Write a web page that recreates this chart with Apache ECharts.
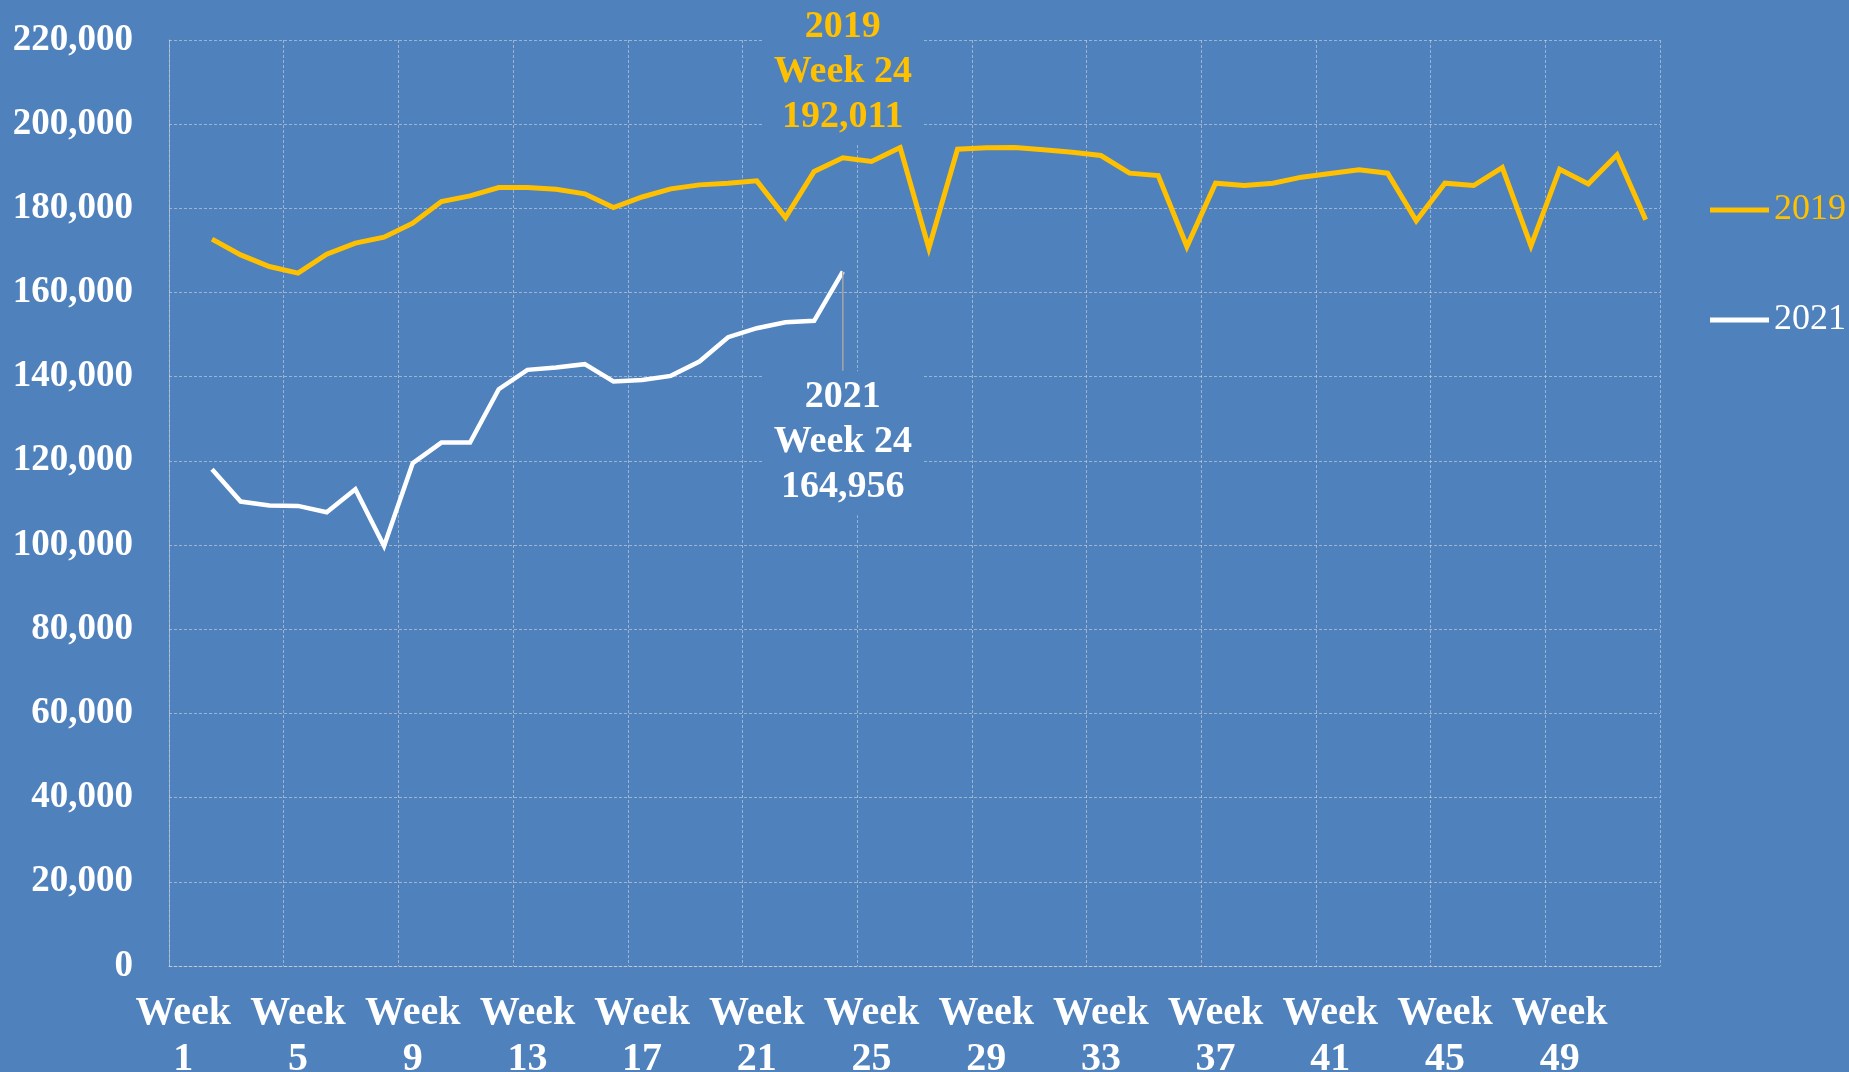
<!DOCTYPE html>
<html lang="en">
<head>
    <meta http-equiv="Content-Type" content="text/html; charset=utf-8"/>
    <title>Weekly totals 2019 vs 2021</title>
    <script src="https://cdn.jsdelivr.net/npm/echarts@6/dist/echarts.min.js"></script>
    <style type="text/css">
        html, body { height:100%; margin:0; background:#4F81BD; }
        #main_1 { width:1849px; height:1072px; }
    </style>
</head>
<body>
<div id="main_1"></div>
<script>
    var weeks = ['Week 1','Week 2','Week 3','Week 4','Week 5','Week 6','Week 7','Week 8','Week 9','Week 10',
        'Week 11','Week 12','Week 13','Week 14','Week 15','Week 16','Week 17','Week 18','Week 19','Week 20',
        'Week 21','Week 22','Week 23','Week 24','Week 25','Week 26','Week 27','Week 28','Week 29','Week 30',
        'Week 31','Week 32','Week 33','Week 34','Week 35','Week 36','Week 37','Week 38','Week 39','Week 40',
        'Week 41','Week 42','Week 43','Week 44','Week 45','Week 46','Week 47','Week 48','Week 49','Week 50',
        'Week 51','Week 52'];

    var v2019 = [null, 172700, 168950, 166180, 164600, 169110, 171730, 173150, 176480, 181630,
        182970, 184950, 184950, 184560, 183450, 180200, 182700, 184630, 185580, 185980,
        186540, 177820, 188750, 192011, 191130, 194460, 170540, 194060, 194380, 194460,
        193900, 193350, 192560, 188360, 187800, 170930, 185980, 185430, 185980, 187410,
        188300, 189150, 188360, 177030, 185980, 185430, 189700, 171090, 189310, 185820,
        192710, 177270];

    var v2021 = [null, 118030, 110340, 109390, 109310, 107810, 113280, 99810, 119450, 124360,
        124360, 137040, 141630, 142180, 142980, 138860, 139250, 140200, 143610, 149390,
        151530, 152960, 153270, 164956];

    var yTicks = { min: 0, max: 220000, step: 20000 };
    var noteWeek = 23; // Week 24

    var BG = '#4F81BD', GOLD = '#FFC000', WHITE = '#FFFFFF';
    var GRID = 'rgba(210,214,222,0.6)';
    var FONT = '"Liberation Serif", "DejaVu Serif", serif';

    function fmt(v) { return v.toLocaleString('en-US'); }

    function note(name, color, pos, dist, values) {
        return {
            symbol: 'circle', symbolSize: 1,
            itemStyle: { color: 'rgba(0,0,0,0)' },
            data: [{ coord: [weeks[noteWeek], values[noteWeek]] }],
            label: {
                show: true, position: pos, distance: dist,
                formatter: function () { return name + '\n' + weeks[noteWeek] + '\n' + fmt(values[noteWeek]); },
                color: color, fontFamily: FONT, fontWeight: 'bold', fontSize: 38, lineHeight: 45,
                backgroundColor: BG, padding: [4, 10, 5, 10], align: 'center'
            }
        };
    }

    var myChart = echarts.init(document.getElementById('main_1'));

    var option = {
        backgroundColor: BG,
        animation: false,
        grid: { left: 169, right: 189, top: 40, bottom: 106, outerBoundsMode: 'none' },
        legend: {
            orient: 'vertical', left: 1710, top: 190, padding: 0,
            icon: 'rect', itemWidth: 59, itemHeight: 5, itemGap: 70,
            textStyle: { fontFamily: FONT, fontSize: 36, lineHeight: 40 },
            data: [
                { name: '2019', textStyle: { color: GOLD } },
                { name: '2021', textStyle: { color: WHITE } }
            ]
        },
        xAxis: {
            type: 'category', data: weeks, boundaryGap: true,
            axisLine: { lineStyle: { color: GRID, type: [3, 2] } },
            axisTick: { show: false },
            axisLabel: {
                interval: 3, margin: 25, color: WHITE,
                fontFamily: FONT, fontWeight: 'bold', fontSize: 40, lineHeight: 46,
                formatter: function (v) { return v.replace(' ', '\n'); }
            },
            splitLine: { show: true, interval: 3, lineStyle: { color: GRID, type: [3, 2] } }
        },
        yAxis: {
            type: 'value', min: yTicks.min, max: yTicks.max, interval: yTicks.step,
            axisLine: { show: true, lineStyle: { color: GRID, type: [3, 2] } },
            axisTick: { show: false },
            axisLabel: {
                margin: 36, color: WHITE, fontFamily: FONT, fontWeight: 'bold', fontSize: 37,
                formatter: function (v) { return fmt(v); }
            },
            splitLine: { lineStyle: { color: GRID, type: [3, 2] } }
        },
        series: [
            {
                name: '2019', type: 'line', data: v2019, showSymbol: false, symbol: 'none',
                lineStyle: { color: GOLD, width: 5, join: 'miter' }, itemStyle: { color: GOLD },
                markPoint: note('2019', GOLD, 'top', 13, v2019)
            },
            {
                name: '2021', type: 'line', data: v2021, showSymbol: false, symbol: 'none',
                lineStyle: { color: WHITE, width: 4.5, join: 'miter' }, itemStyle: { color: WHITE },
                markPoint: note('2021', WHITE, 'bottom', 99, v2021)
            }
        ]
    };
    myChart.setOption(option);

    // leader line from the 2021 point down to its note
    var p = myChart.convertToPixel({ seriesIndex: 1 }, [weeks[noteWeek], v2021[noteWeek]]);
    myChart.setOption({
        graphic: [{
            type: 'line', z: 100,
            shape: { x1: p[0], y1: p[1], x2: p[0], y2: p[1] + 99 },
            style: { stroke: '#A6A6A6', lineWidth: 1.5 }
        }]
    });
</script>
</body>
</html>
